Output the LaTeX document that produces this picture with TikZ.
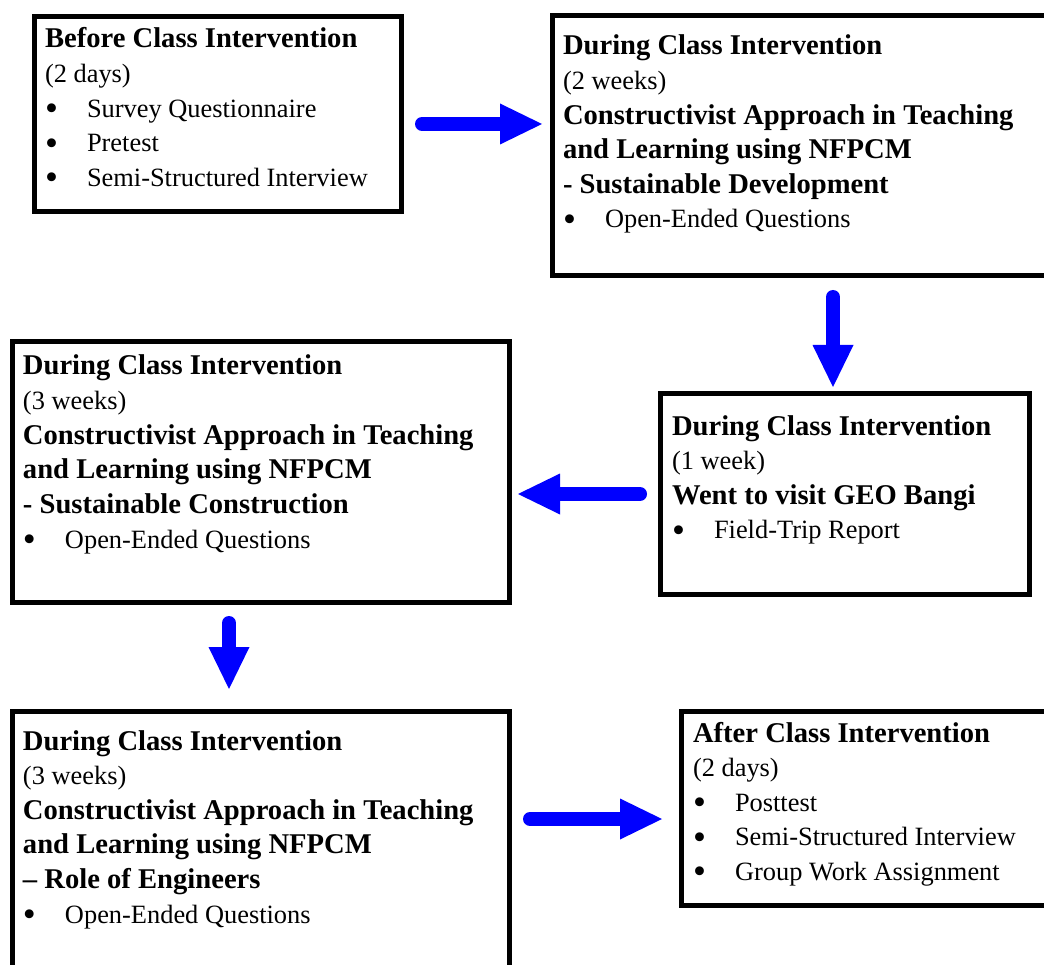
\documentclass[tikz,border=0pt]{standalone}
\usepackage{fontspec}
\setmainfont{Liberation Serif}
\usetikzlibrary{arrows.meta,calc}

% one stage of the schedule: a heavy black frame
\tikzset{
  stage/.style={draw, line width=5pt, rectangle, inner sep=0pt, outer sep=0pt},
  flowarrow/.style={draw=blue, line width=14pt, line cap=round,
    -{Triangle[length=42pt,width=41pt,line width=0pt]}},
  stagetext/.style={anchor=base west, inner sep=0pt, outer sep=0pt,
    font=\fontsize{26.4}{34.6}\selectfont},
}
% stacked lines whose baseline is that of the first line
\newcommand\stagelines[1]{\vtop{\baselineskip=34.6pt\lineskiplimit=-100pt\lineskip=0pt #1}}
\newcommand\rowt[1]{\hbox{#1}}
\newcommand\hdr[1]{\hbox{\fontsize{28.6}{34.6}\selectfont\bfseries #1}}
\newcommand\itm[1]{\hbox{\makebox[42pt][l]{\raisebox{-3.5pt}{\scalebox{1.4}{\textbullet}}}#1}}

\begin{document}
\begin{tikzpicture}[x=1pt,y=-1pt]
\useasboundingbox (0,0) rectangle (1044,965);
\fill[white] (0,0) rectangle (1044,965);
\clip (0,0) rectangle (1044,965);

% frames
\node[stage, minimum width=367pt,   minimum height=195.5pt] (b1) at (218,114.25) {};
\node[stage, minimum width=497.5pt, minimum height=260pt]   (b2) at (801.25,146) {};
\node[stage, minimum width=497pt,   minimum height=260pt]   (b3) at (261,472) {};
\node[stage, minimum width=368.5pt, minimum height=200pt]   (b4) at (844.75,494) {};
\node[stage, minimum width=497pt,   minimum height=279pt]   (b5) at (261,850.5) {};
\node[stage, minimum width=368.5pt, minimum height=194.5pt] (b6) at (865.75,808.25) {};

% contents
\node[stagetext] (t1) at (45,48) {\stagelines{%
  \hdr{Before Class Intervention}
  \rowt{(2 days)}
  \itm{Survey Questionnaire}
  \itm{Pretest}
  \itm{Semi-Structured Interview}}};

\node[stagetext] (t2) at (563,55) {\stagelines{%
  \hdr{During Class Intervention}
  \rowt{(2 weeks)}
  \hdr{Constructivist Approach in Teaching}
  \hdr{and Learning using NFPCM}
  \hdr{- Sustainable Development}
  \itm{Open-Ended Questions}}};

\node[stagetext] (t3) at (23,375) {\stagelines{%
  \hdr{During Class Intervention}
  \rowt{(3 weeks)}
  \hdr{Constructivist Approach in Teaching}
  \hdr{and Learning using NFPCM}
  \hdr{- Sustainable Construction}
  \itm{Open-Ended Questions}}};

\node[stagetext] (t4) at (672,435) {\stagelines{%
  \hdr{During Class Intervention}
  \rowt{(1 week)}
  \hdr{Went to visit GEO Bangi}
  \itm{Field-Trip Report}}};

\node[stagetext] (t5) at (23,750) {\stagelines{%
  \hdr{During Class Intervention}
  \rowt{(3 weeks)}
  \hdr{Constructivist Approach in Teaching}
  \hdr{and Learning using NFPCM}
  \hdr{– Role of Engineers}
  \itm{Open-Ended Questions}}};

\node[stagetext] (t6) at (693,742) {\stagelines{%
  \hdr{After Class Intervention}
  \rowt{(2 days)}
  \itm{Posttest}
  \itm{Semi-Structured Interview}
  \itm{Group Work Assignment}}};

% flow between stages
\coordinate (a1s) at ($(b1.east)+(0,9.75)$);
\draw[flowarrow, shorten <=20.5pt, shorten >=10.5pt] (a1s) -- (a1s -| b2.west);

\coordinate (a2e) at ($(b4.north)+(-11.75,0)$);
\draw[flowarrow, shorten <=21pt, shorten >=7pt] (a2e |- b2.south) -- (a2e);

\draw[flowarrow, shorten <=20.5pt, shorten >=8.5pt] (b4.west) -- (b4.west -| b3.east);

\coordinate (a4s) at ($(b3.south)+(-32,0)$);
\draw[flowarrow, shorten <=21pt, shorten >=22pt] (a4s) -- (a4s |- b5.north);

\coordinate (a5e) at ($(b6.west)+(0,10.75)$);
\draw[flowarrow, shorten <=20.5pt, shorten >=19.5pt] (a5e -| b5.east) -- (a5e);
\end{tikzpicture}
\end{document}
